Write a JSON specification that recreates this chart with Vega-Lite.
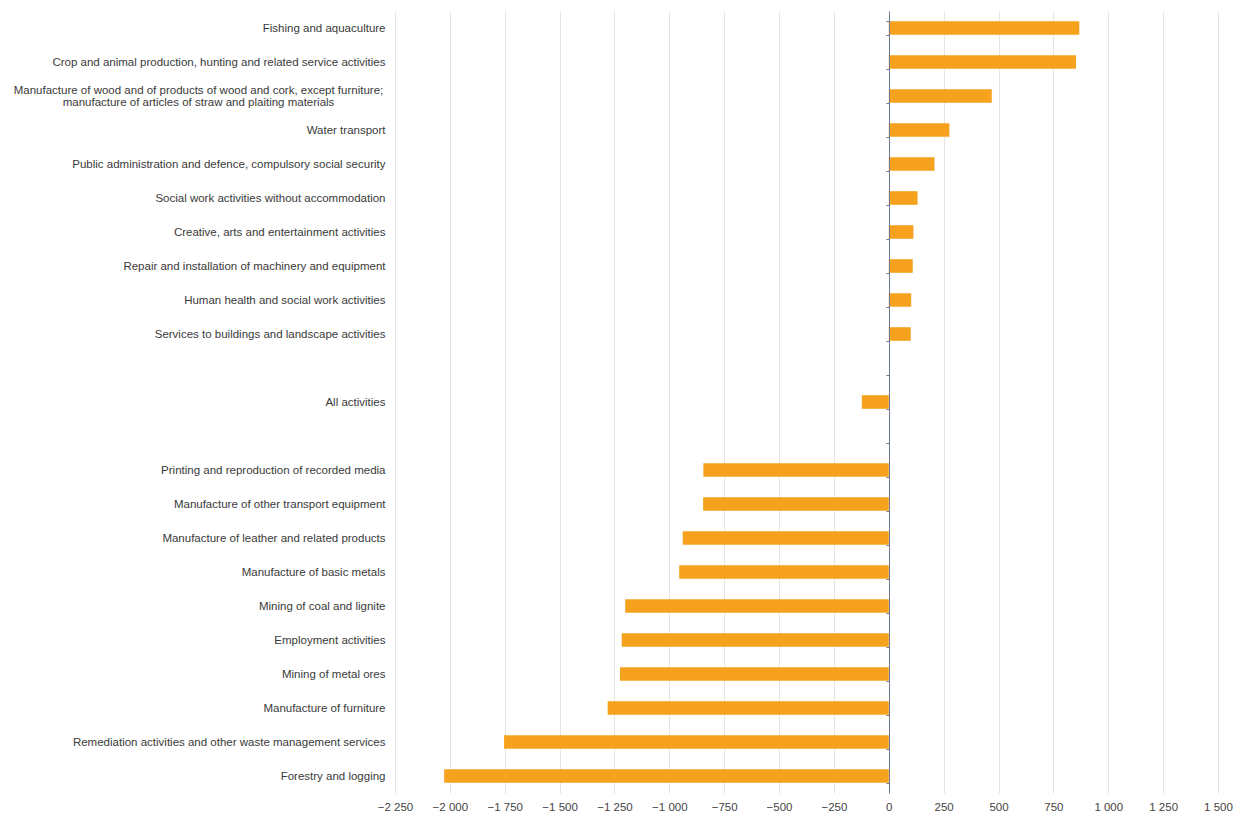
{
  "$schema": "https://vega.github.io/schema/vega-lite/v6.json",
  "autosize": "none",
  "width": 823,
  "height": 782,
  "padding": {"left": 395, "top": 11, "right": 23, "bottom": 26},
  "background": "white",
  "config": {
    "view": {"stroke": null},
    "font": "Liberation Sans"
  },
  "data": {
    "values": [
      {"activity": "Fishing and aquaculture", "value": 868},
      {"activity": "Crop and animal production, hunting and related service activities", "value": 853},
      {"activity": "Manufacture of wood and of products of wood and cork, except furniture; manufacture of articles of straw and plaiting materials", "value": 469},
      {"activity": "Water transport", "value": 276},
      {"activity": "Public administration and defence, compulsory social security", "value": 208},
      {"activity": "Social work activities without accommodation", "value": 131},
      {"activity": "Creative, arts and entertainment activities", "value": 112},
      {"activity": "Repair and installation of machinery and equipment", "value": 109},
      {"activity": "Human health and social work activities", "value": 102},
      {"activity": "Services to buildings and landscape activities", "value": 100},
      {"activity": "All activities", "value": -123},
      {"activity": "Printing and reproduction of recorded media", "value": -845},
      {"activity": "Manufacture of other transport equipment", "value": -846},
      {"activity": "Manufacture of leather and related products", "value": -939},
      {"activity": "Manufacture of basic metals", "value": -955},
      {"activity": "Mining of coal and lignite", "value": -1201},
      {"activity": "Employment activities", "value": -1217},
      {"activity": "Mining of metal ores", "value": -1225},
      {"activity": "Manufacture of furniture", "value": -1281},
      {"activity": "Remediation activities and other waste management services", "value": -1753},
      {"activity": "Forestry and logging", "value": -2026}
    ]
  },
  "mark": {"type": "bar", "color": "#f6a21e"},
  "encoding": {
    "y": {
      "field": "activity",
      "type": "nominal",
      "scale": {
        "domain": [
          "Fishing and aquaculture",
          "Crop and animal production, hunting and related service activities",
          "Manufacture of wood and of products of wood and cork, except furniture; manufacture of articles of straw and plaiting materials",
          "Water transport",
          "Public administration and defence, compulsory social security",
          "Social work activities without accommodation",
          "Creative, arts and entertainment activities",
          "Repair and installation of machinery and equipment",
          "Human health and social work activities",
          "Services to buildings and landscape activities",
          "blank1",
          "All activities",
          "blank2",
          "Printing and reproduction of recorded media",
          "Manufacture of other transport equipment",
          "Manufacture of leather and related products",
          "Manufacture of basic metals",
          "Mining of coal and lignite",
          "Employment activities",
          "Mining of metal ores",
          "Manufacture of furniture",
          "Remediation activities and other waste management services",
          "Forestry and logging"
        ],
        "paddingInner": 0.6,
        "paddingOuter": 0.3
      },
      "axis": {
        "title": null,
        "orient": "left",
        "offset": -494,
        "zindex": 1,
        "domain": true,
        "domainColor": "#6b7890",
        "domainWidth": 1,
        "ticks": true,
        "tickBand": "extent",
        "tickColor": "#6b7890",
        "tickSize": 3,
        "labelPadding": {
          "condition": {"test": "datum.value == 'Manufacture of wood and of products of wood and cork, except furniture; manufacture of articles of straw and plaiting materials'", "value": 688},
          "value": 501
        },
        "labelAlign": {
          "condition": {"test": "datum.value == 'Manufacture of wood and of products of wood and cork, except furniture; manufacture of articles of straw and plaiting materials'", "value": "center"},
          "value": "right"
        },
        "labelOffset": {
          "condition": {"test": "datum.value == 'Manufacture of wood and of products of wood and cork, except furniture; manufacture of articles of straw and plaiting materials'", "value": -6},
          "value": 0
        },
        "labelFontSize": 11.5,
        "labelColor": "#3a3a3a",
        "labelFont": "Liberation Sans",
        "labelLimit": 500,
        "labelLineHeight": 12.5,
        "labelExpr": "datum.value == 'blank1' || datum.value == 'blank2' ? '' : (datum.value == 'Manufacture of wood and of products of wood and cork, except furniture; manufacture of articles of straw and plaiting materials' ? ['Manufacture of wood and of products of wood and cork, except furniture;', 'manufacture of articles of straw and plaiting materials'] : datum.value)"
      }
    },
    "x": {
      "field": "value",
      "type": "quantitative",
      "scale": {"domain": [-2250, 1500], "nice": false, "zero": false},
      "axis": {
        "title": null,
        "values": [-2250, -2000, -1750, -1500, -1250, -1000, -750, -500, -250, 0, 250, 500, 750, 1000, 1250, 1500],
        "domain": false,
        "ticks": false,
        "grid": true,
        "gridColor": "#e4e4e4",
        "gridWidth": 1,
        "labelFlush": false,
        "labelOverlap": false,
        "labelPadding": 8,
        "labelFontSize": 11.5,
        "labelColor": "#444444",
        "labelFont": "Liberation Sans",
        "labelExpr": "replace(format(datum.value, ','), ',', ' ')"
      }
    }
  }
}
